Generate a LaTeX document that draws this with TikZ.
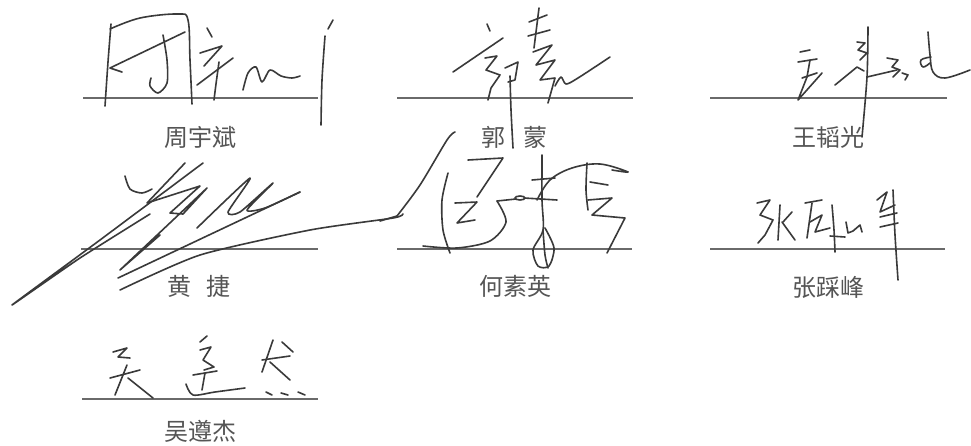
\documentclass[tikz,border=0pt]{standalone}
\usepackage{fontspec}
\newfontfamily\cjk{Noto Sans CJK SC}
\definecolor{sigc}{HTML}{3A3A3A}
\definecolor{linec}{HTML}{6A6A6A}
\definecolor{namec}{HTML}{555555}
\tikzset{
  sig/.style={draw=sigc, line width=1.6pt, line cap=round, line join=round},
  sigline/.style={draw=linec, line width=1.4pt},
  pname/.style={text=namec, inner sep=0pt, font=\cjk\fontsize{24}{24}\selectfont},
}
\begin{document}
\begin{tikzpicture}[x=1pt,y=-1pt]
\useasboundingbox[fill=white] (0,0) rectangle (971,445);

% ---------- signature lines ----------
\draw[sigline] (83,98) -- (318,98);
\draw[sigline] (397,98) -- (633,98);
\draw[sigline] (710,98) -- (947,98);
\draw[sigline] (81,249) -- (318,249);
\draw[sigline] (397,249) -- (632,249);
\draw[sigline] (710,249) -- (945,249);
\draw[sigline] (82,399) -- (318,399);

% ---------- printed names ----------
\node[pname] (n1) at (200,137) {周宇斌};
\node[pname] (n2) at (514,137) {郭\hspace{18pt}蒙};
\node[pname] (n3) at (828,137) {王韬光};
\node[pname] (n4) at (199,286) {黄\hspace{16pt}捷};
\node[pname] (n5) at (515,286) {何素英};
\node[pname] (n6) at (828,287) {张踩峰};
\node[pname] (n7) at (200,431) {吴遵杰};

% ---------- 周宇斌 signature ----------
\draw[sig] plot[smooth] coordinates {(111,24) (108,62) (105,106)};
\draw[sig] plot[smooth, tension=0.6] coordinates {(110,29) (140,18) (178,14) (188,20) (190,60) (192,104)};
\draw[sig] (185,32) -- (110,68) -- (122,72);
\draw[sig] plot[smooth] coordinates {(163,35) (167,60) (167,83) (158,93) (150,86) (151,78)};
\draw[sig] (207,28) -- (212,37);
\draw[sig] (200,53) -- (222,46) -- (204,66);
\draw[sig] (197,85) -- (233,58);
\draw[sig] plot[smooth] coordinates {(219,62) (216,84) (214,100)};
\draw[sig] plot[smooth, tension=0.5] coordinates {(243,90) (248,73) (256,67) (262,82) (270,70) (281,76) (292,78) (300,76)};
\draw[sig] (328,29) -- (333,20);
\draw[sig] plot[smooth] coordinates {(325,36) (322,80) (321,125)};

% ---------- 郭蒙 signature ----------
\draw[sig] (487,24) -- (490,31);
\draw[sig] (453,72) -- (503,38);
\draw[sig] (485,58) -- (497,56) -- (486,70) -- (500,75) -- (491,88) -- (488,100);
\draw[sig] (505,68) -- (518,62) -- (515,80) -- (508,82);
\draw[sig] plot[smooth] coordinates {(510,76) (511,110) (513,148)};
\draw[sig] (539,8) -- (534,48);
\draw[sig] (529,22) -- (547,15);
\draw[sig] (528,36) -- (550,30);
\draw[sig] (533,52) -- (552,45) -- (536,65) -- (555,60) -- (540,80) -- (555,78) -- (548,103);
\draw[sig] plot[smooth, tension=0.5] coordinates {(555,86) (561,77) (566,84) (578,78) (610,57)};

% ---------- 王韬光 signature ----------
\draw[sig] (800,52) -- (810,50);
\draw[sig] (798,62) -- (817,59);
\draw[sig] (810,60) -- (807,77);
\draw[sig] (802,78) -- (817,73);
\draw[sig] (807,77) -- (798,100) -- (822,73);
\draw[sig] (835,85) -- (857,67) -- (864,71);
\draw[sig] (857,42) -- (865,43) -- (858,50) -- (867,53) -- (860,60);
\draw[sig] plot[smooth] coordinates {(868,27) (867,77) (862,137)};
\draw[sig] (867,77) -- (897,70);
\draw[sig] (887,58) -- (898,60) -- (892,67) -- (900,70) -- (893,77);
\draw[sig] (902,73) -- (908,75) -- (905,80);
\draw[sig] plot[smooth, tension=0.7] coordinates {(931,57) (921,60) (923,67) (930,63)};
\draw[sig] plot[smooth, tension=0.6] coordinates {(928,32) (930,55) (933,72) (945,78) (970,70)};

% ---------- 黄捷 signature ----------
\draw[sig] plot[smooth] coordinates {(125,176) (130,189) (142,193) (152,189)};
\draw[sig] plot[smooth, tension=0.3] coordinates {(203,163) (100,240) (12,305) (80,258) (150,214)};
\draw[sig] (185,163) -- (147,203) -- (200,186) -- (170,213) -- (183,214) -- (207,188) -- (120,270) -- (160,235);
\draw[sig] plot[smooth, tension=0.4] coordinates {(197,228) (250,178) (228,212) (240,212) (273,183) (247,210) (265,208) (300,192)};
\draw[sig] (300,192) -- (118,278);
\draw[sig] plot[smooth, tension=0.4] coordinates {(120,290) (200,255) (310,230) (393,218) (403,214)};

% ---------- 何素英 signature ----------
\draw[sig] (380,221) -- (397,216);
\draw[sig] plot[smooth] coordinates {(397,216) (420,185) (447,140) (455,132)};
\draw[sig] plot[smooth] coordinates {(448,173) (442,200) (443,230) (450,253)};
\draw[sig] (468,160) -- (503,158) -- (477,197);
\draw[sig] (455,203) -- (477,202) -- (457,223) -- (475,220);
\draw[sig] plot[smooth] coordinates {(497,201) (506,222) (490,241) (457,248) (423,246)};
\draw[sig] (497,201) -- (516,199);
\draw[sig] (520,198) ellipse[x radius=5, y radius=2];
\draw[sig] (524,198) -- (557,200);
\draw[sig] plot[smooth] coordinates {(542,155) (542,200) (543,230) (533,250) (538,266) (549,266) (554,248) (545,228)};
\draw[sig] plot[smooth] coordinates {(543,230) (545,255) (548,268)};
\draw[sig] (532,180) -- (555,178);
\draw[sig] plot[smooth, tension=0.6] coordinates {(537,200) (550,180) (572,168) (600,164) (628,172) (612,170)};
\draw[sig] plot[smooth] coordinates {(587,163) (586,190) (588,210)};
\draw[sig] (590,182) -- (608,185);
\draw[sig] (588,200) -- (612,198) -- (592,215) -- (625,218) -- (607,253);

% ---------- 张踩峰 signature ----------
\draw[sig] (757,203) -- (770,200) -- (760,215) -- (773,220) -- (765,235) -- (758,243);
\draw[sig] (780,205) -- (778,240);
\draw[sig] (783,222) -- (792,212);
\draw[sig] (782,222) -- (795,240);
\draw[sig] (805,203) -- (822,200);
\draw[sig] (812,203) -- (807,238);
\draw[sig] (810,222) -- (822,215) -- (815,232) -- (830,228);
\draw[sig] plot[smooth] coordinates {(832,205) (834,230) (835,252)};
\draw[sig] (830,236) -- (845,237);
\draw[sig] (846,222) -- (848,233) -- (853,231) -- (860,225) -- (862,232);
\draw[sig] (877,200) -- (887,192) -- (880,212) -- (895,205);
\draw[sig] (880,217) -- (897,213);
\draw[sig] (880,227) -- (898,223);
\draw[sig] plot[smooth] coordinates {(893,190) (895,235) (898,280)};

% ---------- 吴遵杰 signature ----------
\draw[sig] (113,352) -- (127,348) -- (118,357) -- (130,358);
\draw[sig] (110,378) -- (140,370);
\draw[sig] (127,365) -- (115,395);
\draw[sig] (128,378) -- (153,398);
\draw[sig] (200,342) -- (207,336);
\draw[sig] (200,350) -- (211,347) -- (203,360) -- (214,367) -- (204,370);
\draw[sig] (193,375) -- (217,371);
\draw[sig] (205,373) -- (202,390);
\draw[sig] plot[smooth] coordinates {(186,384) (193,395) (215,392) (245,388)};
\draw[sig] (273,340) -- (262,372);
\draw[sig] (282,342) -- (293,352);
\draw[sig] (262,360) -- (290,356);
\draw[sig] (270,362) -- (290,380);
\draw[sig] (266,392) -- (272,395);
\draw[sig] (281,393) -- (288,395);
\draw[sig] (298,392) -- (305,395);
\end{tikzpicture}
\end{document}
